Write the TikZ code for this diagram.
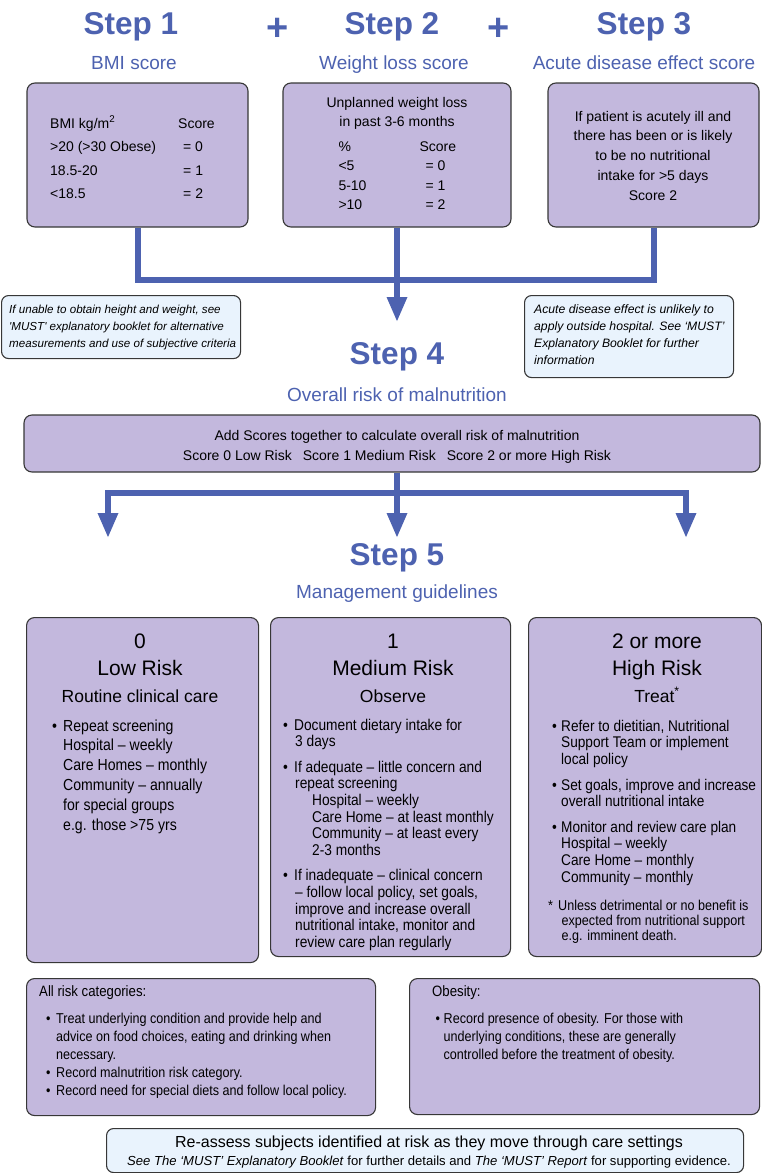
\documentclass[tikz,border=0pt]{standalone}
\usepackage{fontspec}
\setmainfont{Liberation Sans}
\newfontfamily\narrowfont[FakeStretch=0.88, Ligatures=TeX]{Liberation Sans}
\usetikzlibrary{
  arrows.meta,
  positioning,
}
\definecolor{mustblue}{RGB}{77,98,176}
\definecolor{lilac}{RGB}{195,184,221}
\definecolor{notefill}{RGB}{233,243,253}
\definecolor{boxedge}{RGB}{55,55,55}
\tikzset{
  >={Triangle[width=19pt,length=25pt]},
}
\newcommand{\fs}[2]{\fontsize{#1}{#2}\selectfont}
\newcommand{\blt}[1]{\makebox[#1][l]{\textbullet}}
\newcommand{\wrow}[2]{\makebox[81pt][l]{#1}\makebox[36pt][l]{#2}}

\begin{document}
\begin{tikzpicture}[x=1pt, y=-1pt,
      panel/.style={draw=boxedge, line width=1.1pt, fill=lilac, rounded corners=8pt, inner sep=0pt},
      note/.style={draw=boxedge, line width=1.1pt, fill=notefill, rounded corners=7pt, inner sep=0pt},
      steptitle/.style={text=mustblue, font=\bfseries\fs{31.5}{36}, anchor=base},
      plus/.style={text=mustblue, font=\bfseries\fs{38}{40}, anchor=base},
      subtitle/.style={text=mustblue, font=\fs{19}{22}, anchor=base},
      txt/.style={inner sep=0pt, align=left, anchor=north west},
      head/.style={inner sep=0pt, align=center, anchor=north, font=\fs{21}{27}},
      flow/.style={draw=mustblue, line width=6pt},
    ]
      \useasboundingbox (0,0) rectangle (762,1173);

      \node [steptitle] (step1) at (131,34) {Step 1};
      \node [plus] (plus1) at (278,40) {+};
      \node [steptitle] (step2) at (392,34) {Step 2};
      \node [plus] (plus2) at (498.5,40) {+};
      \node [steptitle] (step3) at (644,34) {Step 3};
      \node [subtitle] (bmisub) at (134,69) {BMI score};
      \node [subtitle] (weightsub) at (394,69) {Weight loss score};
      \node [subtitle] (acutesub) at (644,69) {Acute disease effect score};

      \node [panel, minimum width=221pt, minimum height=144pt] (bmi) at (137.5,155) {};
      \node [panel, minimum width=228pt, minimum height=144pt] (weight) at (397,155) {};
      \node [panel, minimum width=211pt, minimum height=144pt] (acute) at (653.5,155) {};
      \node [txt, font=\fs{14}{23.5}] (bmitxt) at (50,111.5) {\begin{tabular}{@{}p{128pt}@{}l@{}}
          BMI kg/m\textsuperscript{2} & Score\\
          >20 (>30 Obese) & \hspace{5pt}= 0\\
          18.5-20 & \hspace{5pt}= 1\\
          <18.5 & \hspace{5pt}= 2
        \end{tabular}};
      \node [txt, align=center, anchor=north, font=\fs{14}{19.5}] (weighttxt) at (397,93.4) {\strut Unplanned weight loss\\
        in past 3-6 months\\[5pt]
        \wrow{\%}{Score}\\
        \wrow{<5}{\hspace{6pt}= 0}\\
        \wrow{5-10}{\hspace{6pt}= 1}\\
        \wrow{>10}{\hspace{6pt}= 2}};
      \node [txt, align=center, anchor=north, font=\fs{14}{19.75}] (acutetxt) at (653,107.2) {\strut If patient is acutely ill and\\
        there has been or is likely\\
        to be no nutritional\\
        intake for >5 days\\
        Score 2};

      \node [note, minimum width=239pt, minimum height=63pt, anchor=north west] (heightnote) at (1,295) {};
      \node [txt, font=\itshape\fs{11.6}{17}] (heightnotetxt) at (9,301.1) {\strut If unable to obtain height and weight, see\\
        \textquotesingle MUST\textquotesingle\ explanatory booklet for alternative\\
        measurements and use of subjective criteria};
      \node [note, minimum width=209pt, minimum height=82pt, anchor=north west] (acutenote) at (524,295) {};
      \node [txt, font=\itshape\fs{12.2}{17}] (acutenotetxt) at (534,301.1) {\strut Acute disease effect is unlikely to\\
        apply outside hospital. See `MUST'\\
        Explanatory Booklet for further\\
        information};

      \coordinate (join) at (397,280);
      \coordinate (tip4) at (397,322);
      \draw [flow] (bmi.south) |- (join) -| (acute.south);
      \draw [flow, ->] (weight.south) -- (tip4);

      \node [steptitle] (step4) at (397,364) {Step 4};
      \node [subtitle] (step4sub) at (397,401) {Overall risk of malnutrition};
      \node [panel, minimum width=736pt, minimum height=57pt] (risk) at (392,443.5) {};
      \node [txt, align=center, anchor=north, font=\fs{14}{20}] (risktxt) at (397,426) {\strut Add Scores together to calculate overall risk of malnutrition\\
        Score 0 Low Risk\hspace{11pt}Score 1 Medium Risk\hspace{11pt}Score 2 or more High Risk};

      \coordinate (split) at (397,493);
      \coordinate (tipL) at (108,538);
      \coordinate (tipM) at (397,538);
      \coordinate (tipR) at (686,538);
      \draw [flow, ->] (risk.south -| split) -- (tipM);
      \draw [flow, ->] (split) -| (tipL);
      \draw [flow, ->] (split) -| (tipR);

      \node [steptitle] (step5) at (397,565) {Step 5};
      \node [subtitle] (step5sub) at (397,598) {Management guidelines};

      \node [panel, minimum width=232pt, minimum height=345pt, anchor=north west] (low) at (26,617) {};
      \node [panel, minimum width=240pt, minimum height=339pt, anchor=north west] (medium) at (270,617) {};
      \node [panel, minimum width=233pt, minimum height=339pt, anchor=north west] (high) at (528,617) {};

      \node [head] (lowhead) at (140,629.1) {\strut 0\\ Low Risk\\ {\fs{17.5}{27}Routine clinical care}};
      \node [head] (mediumhead) at (393,629.1) {\strut 1\\ Medium Risk\\ {\fs{17.5}{27}Observe}};
      \node [head] (highhead) at (657,629.1) {\strut 2 or more\\ High Risk\\ {\fs{17.5}{27}Treat\textsuperscript{*}}};

      \node [txt, font=\narrowfont\fs{16}{19.8}] (lowtxt) at (52,717.1) {\strut\blt{11pt}Repeat screening\\
        \hspace*{11pt}Hospital -- weekly\\
        \hspace*{11pt}Care Homes -- monthly\\
        \hspace*{11pt}Community -- annually\\
        \hspace*{11pt}for special groups\\
        \hspace*{11pt}e.g. those >75 yrs};
      \node [txt, font=\narrowfont\fs{15.6}{16.7}] (mediumtxt) at (283,718.3) {\strut\blt{11pt}Document dietary intake for\\
        \hspace*{12pt}3 days\\[8.5pt]
        \blt{11pt}If adequate -- little concern and\\
        \hspace*{12pt}repeat screening\\
        \hspace*{29pt}Hospital -- weekly\\
        \hspace*{29pt}Care Home -- at least monthly\\
        \hspace*{29pt}Community -- at least every\\
        \hspace*{29pt}2-3 months\\[8.5pt]
        \blt{11pt}If inadequate -- clinical concern\\
        \hspace*{12pt}-- follow local policy, set goals,\\
        \hspace*{12pt}improve and increase overall\\
        \hspace*{12pt}nutritional intake, monitor and\\
        \hspace*{12pt}review care plan regularly};
      \node [txt, font=\narrowfont\fs{15.5}{16.8}] (hightxt) at (552,719.2) {\strut\blt{9pt}Refer to dietitian, Nutritional\\
        \hspace*{9pt}Support Team or implement\\
        \hspace*{9pt}local policy\\[8.5pt]
        \blt{9pt}Set goals, improve and increase\\
        \hspace*{9pt}overall nutritional intake\\[8.5pt]
        \blt{9pt}Monitor and review care plan\\
        \hspace*{9pt}Hospital -- weekly\\
        \hspace*{9pt}Care Home -- monthly\\
        \hspace*{9pt}Community -- monthly};
      \node [txt, font=\narrowfont\fs{14.3}{15.2}] (highfoot) at (548,899.4) {\strut\makebox[10pt][l]{*}Unless detrimental or no benefit is\\
        \hspace*{13.5pt}expected from nutritional support\\
        \hspace*{13.5pt}e.g. imminent death.};

      \node [panel, minimum width=349pt, minimum height=137pt, anchor=north west] (allrisk) at (26,978) {};
      \node [panel, minimum width=350pt, minimum height=136pt, anchor=north west] (obesity) at (409,978) {};
      \node [txt, font=\narrowfont\fs{14.3}{17.8}] (allrisktxt) at (39,983.5) {\strut{\fs{15}{17.8}All risk categories:}\\[10pt]
        \hspace*{7pt}\blt{10pt}Treat underlying condition and provide help and\\
        \hspace*{17pt}advice on food choices, eating and drinking when\\
        \hspace*{17pt}necessary.\\
        \hspace*{7pt}\blt{10pt}Record malnutrition risk category.\\
        \hspace*{7pt}\blt{10pt}Record need for special diets and follow local policy.};
      \node [txt, font=\narrowfont\fs{14.3}{17.8}] (obesitytxt) at (432,983.5) {\strut{\fs{15}{17.8}Obesity:}\\[10pt]
        \hspace*{3.5pt}\blt{8pt}Record presence of obesity. For those with\\
        \hspace*{11.5pt}underlying conditions, these are generally\\
        \hspace*{11.5pt}controlled before the treatment of obesity.};

      \node [note, minimum width=637pt, minimum height=44pt, anchor=north west] (reassess) at (106,1128) {};
      \node [txt, align=center, anchor=north, font=\fs{16}{18}] (reassesstxt) at (429,1134.4) {\strut Re-assess subjects identified at risk as they move through care settings\\
        {\fs{13.1}{14}\textit{See The `MUST' Explanatory Booklet} for further details and \textit{The `MUST' Report} for supporting evidence.}};
    \end{tikzpicture}
\end{document}
